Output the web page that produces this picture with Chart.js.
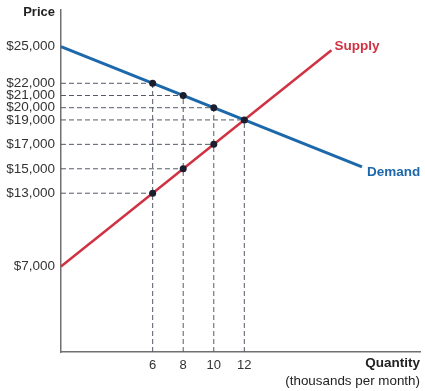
<!DOCTYPE html>
<html>
<head>
<meta charset="utf-8">
<script src="https://cdn.jsdelivr.net/npm/chart.js@4"></script>
<style>
  html, body { margin: 0; padding: 0; background: #fff; }
  #wrap { width: 425px; height: 391px; }
</style>
</head>
<body>
<div id="wrap"><canvas id="c"></canvas></div>
<script>
// curve end points (quantity in thousands, price in $)
const demandQ = [0, 19.7];
const demandP = [25000, 15150];
const supplyQ = [0, 17.7];
const supplyP = [7000, 24700];

// marked points
const pointQ = [6, 8, 10, 12, 10, 8, 6];
const pointP = [22000, 21000, 20000, 19000, 17000, 15000, 13000];

// tick labels
const yTicks = [7000, 13000, 15000, 17000, 19000, 20000, 21000, 22000, 25000];
const xTicks = [6, 8, 10, 12];

const font = '"Liberation Sans", Arial, Helvetica, sans-serif';
const blue = '#1d68aa';
const red = '#cf3242';
const dashColor = '#555a66';

const toXY = (qs, ps) => qs.map((q, i) => ({x: q, y: ps[i]}));

// dashed guides: horizontal from price axis to the point, vertical from demand point down
let guides = [];
pointQ.forEach((q, i) => {
  guides.push({
    data: [{x: 0, y: pointP[i]}, {x: q, y: pointP[i]}],
    borderColor: dashColor, borderWidth: 1, borderDash: [5, 3],
    pointRadius: 0, order: 3, clip: false
  });
});
xTicks.forEach(q => {
  let top = 0;
  pointQ.forEach((pq, i) => { if (pq === q) top = Math.max(top, pointP[i]); });
  guides.push({
    data: [{x: q, y: 0}, {x: q, y: top}],
    borderColor: dashColor, borderWidth: 1, borderDash: [5, 3],
    pointRadius: 0, order: 3, clip: false
  });
});

const textPlugin = {
  id: 'texts',
  afterDraw(chart) {
    const c = chart.ctx;
    const xs = chart.scales.x, ys = chart.scales.y;
    c.save();
    c.fillStyle = '#222';
    c.textBaseline = 'middle';
    c.textAlign = 'right';
    c.font = 'bold 13px ' + font;
    c.fillText('Price', 55, 12);
    c.font = 'bold 13.5px ' + font;
    c.fillText('Quantity', 420, 363);
    c.font = '13.4px ' + font;
    c.fillText('(thousands per month)', 420, 381);
    c.textAlign = 'left';
    c.font = 'bold 13.5px ' + font;
    c.fillStyle = red;
    c.fillText('Supply', xs.getPixelForValue(supplyQ[1]) + 3, ys.getPixelForValue(supplyP[1]) - 4);
    c.fillStyle = blue;
    c.fillText('Demand', xs.getPixelForValue(demandQ[1]) + 5, ys.getPixelForValue(demandP[1]) + 5);
    c.restore();
  }
};

new Chart(document.getElementById('c'), {
  type: 'line',
  data: {
    datasets: [
      ...guides,
      {
        data: toXY(demandQ, demandP),
        borderColor: blue, borderWidth: 3, pointRadius: 0, order: 2, clip: false
      },
      {
        data: toXY(supplyQ, supplyP),
        borderColor: red, borderWidth: 2.5, pointRadius: 0, order: 2, clip: false
      },
      {
        data: toXY(pointQ, pointP),
        showLine: false, pointRadius: 3.5, pointBackgroundColor: '#1c1e2e',
        pointBorderWidth: 0, order: 1, clip: false
      }
    ]
  },
  options: {
    responsive: true,
    maintainAspectRatio: false,
    animation: false,
    layout: { padding: { top: 10, right: 5, left: 0, bottom: 0 } },
    plugins: { legend: { display: false }, tooltip: { enabled: false } },
    scales: {
      x: {
        type: 'linear', min: 0, max: 23.5,
        afterFit: s => { s.height = 39; s.paddingLeft = 0; s.paddingRight = 0; },
        afterBuildTicks: s => { s.ticks = xTicks.map(v => ({value: v})); },
        grid: { display: false, drawTicks: false },
        border: { color: '#707070', width: 1.5 },
        ticks: { padding: 6, color: '#333', font: { family: font, size: 13 } }
      },
      y: {
        type: 'linear', min: 0, max: 28000,
        afterFit: s => { s.width = 61; s.paddingTop = 0; s.paddingBottom = 0; },
        afterBuildTicks: s => { s.ticks = yTicks.map(v => ({value: v})); },
        grid: { display: false, drawTicks: false },
        border: { color: '#707070', width: 1.5 },
        ticks: {
          padding: 6, color: '#333', font: { family: font, size: 13.5 },
          callback: v => '$' + v.toLocaleString('en-US')
        }
      }
    }
  },
  plugins: [textPlugin]
});
</script>
</body>
</html>
